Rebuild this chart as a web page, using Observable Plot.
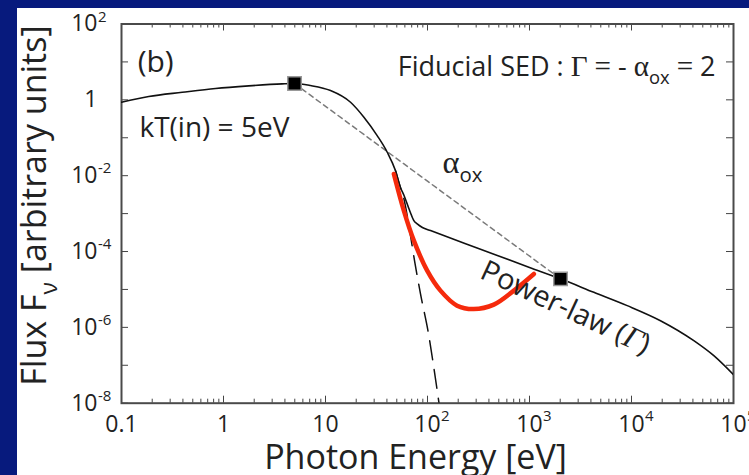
<!DOCTYPE html>
<html>
<head>
<meta charset="utf-8">
<script src="https://cdn.jsdelivr.net/npm/d3@7"></script>
<script src="https://cdn.jsdelivr.net/npm/@observablehq/plot@0.6"></script>
<style>
  html, body { margin: 0; padding: 0; width: 749px; height: 475px; overflow: hidden; background: #071a7d; }
  #panel { position: absolute; left: 17px; top: 8px; width: 732px; height: 467px; background: #ffffff; }
  #panel svg { overflow: visible; }
  #panel text { white-space: pre; }
</style>
</head>
<body>
<div id="panel"></div>
<script>
// Photon energy [eV] and flux F_nu of the total SED (disk + power law with high-energy roll-over)
const sedEnergy = [0.1, 0.185, 0.394, 0.836, 1.77, 3.76, 4.97, 7.13, 11.2, 17.6, 23.8, 32.1, 40.3, 48.5, 54.3, 58.6, 64.2, 68.1, 73.5, 79.3, 89.1, 107, 316, 1000, 2014, 4276, 9078, 19230, 40830, 64120, 100000];
const sedFlux   = [0.865, 1.22, 1.58, 2.0, 2.34, 2.63, 2.69, 2.38, 1.76, 0.865, 0.348, 0.114, 0.0415, 0.0136, 0.0049, 0.0031, 0.00162, 0.00105, 0.00065, 0.000535, 0.00043, 0.000356, 0.00012, 0.000038, 0.000019, 8.4e-6, 3.74e-6, 1.5e-6, 4.46e-7, 1.79e-7, 5.65e-8];

// Accretion-disk component alone (kT(in) = 5 eV), Wien tail
const diskEnergy = [48.5, 54.3, 58.6, 65.2, 74.6, 85.3, 102.3, 114.6, 129.7];
const diskFlux   = [0.0136, 0.0048, 0.0025, 0.00055, 5.75e-5, 7.76e-6, 6.8e-7, 9.8e-8, 1.0e-8];

// Alternative soft-excess shape
const altEnergy = [46.8, 58.6, 73.5, 99.3, 134, 195, 284, 447, 702, 1104];
const altFlux   = [0.0111, 0.0012, 1.94e-4, 3.13e-5, 9.3e-6, 3.74e-6, 3.05e-6, 3.98e-6, 9.3e-6, 2.56e-5];

// Anchor points of alpha_ox: 2500 Angstrom and 2 keV
const anchorEnergy = [4.97, 2014];
const anchorFlux   = [2.69, 1.9e-5];

// Axis tick labels
const energyTicks    = [0.1, 1, 10, 100, 1e3, 1e4, 1e5];
const energyTickBase = ["0.1", "1", "10", "10", "10", "10", "10"];
const energyTickExp  = ["", "", "", "2", "3", "4", "5"];
const fluxTicks      = [1e2, 1, 1e-2, 1e-4, 1e-6, 1e-8];
const fluxTickBase   = ["10", "1", "10", "10", "10", "10"];
const fluxTickExp    = ["2", "", "-2", "-4", "-6", "-8"];

// Annotations (data coordinates)
const notesLeft = [
  {x: 0.144, y: 10,     text: "(b)",          size: 30},
  {x: 0.15,  y: 0.186,  text: "kT(in) = 5eV", size: 28},
  {x: 140,   y: 0.0209, text: "*{α}_{ox}",    size: 30}
];
const notesRight = [
  {x: 66700, y: 7.1, text: "Fiducial SED : *{Γ} *{=} - *{α}_{ox} *{=} 2", size: 27}
];
const notesTilted = [
  {x: 2254, y: 3.3e-6, text: "Power-law (%{Γ})", size: 29, rotate: 25}
];

const W = 732, H = 467;
const mL = 104, mR = 16, mT = 15.5, mB = 72.3;
const plotW = W - mL - mR, plotH = H - mT - mB;
const ink = "#222222";

const sed = sedEnergy.map((e, i) => ({e, f: sedFlux[i]}));
const disk = diskEnergy.map((e, i) => ({e, f: diskFlux[i]}));
const alt = altEnergy.map((e, i) => ({e, f: altFlux[i]}));
const anchors = anchorEnergy.map((e, i) => ({e, f: anchorFlux[i]}));
const xLab = energyTicks.map((v, i) => ({v, base: energyTickBase[i], exp: energyTickExp[i]}));
const yLab = fluxTicks.map((v, i) => ({v, base: fluxTickBase[i], exp: fluxTickExp[i]}));

// log-axis tick positions from d3's log scale: decades are major, the rest minor
const isDecade = v => Math.abs(Math.log10(v) - Math.round(Math.log10(v))) < 1e-9;
const xAll = d3.scaleLog().domain([0.1, 1e5]).ticks();
const yAll = d3.scaleLog().domain([1e-8, 1e2]).ticks();
const xMajor = xAll.filter(isDecade), xMinor = xAll.filter(v => !isDecade(v));
const yMajor = yAll.filter(isDecade), yMinor = yAll.filter(v => !isDecade(v));
const MAJ = 7, MIN = 4, tickCol = "#444";

const chart = Plot.plot({
  width: W, height: H,
  marginLeft: mL, marginRight: mR, marginTop: mT, marginBottom: mB,
  x: {type: "log", domain: [0.1, 1e5], axis: null},
  y: {type: "log", domain: [1e-8, 1e2], axis: null},
  style: {fontFamily: "'Open Sans', sans-serif", background: "transparent", color: ink},
  marks: [
    // inward ticks on all four sides
    Plot.tickX(xMajor, {x: d => d, insetTop: plotH - MAJ, stroke: tickCol, strokeWidth: 1}),
    Plot.tickX(xMinor, {x: d => d, insetTop: plotH - MIN, stroke: tickCol, strokeWidth: 1}),
    Plot.tickX(xMajor, {x: d => d, insetBottom: plotH - MAJ, stroke: tickCol, strokeWidth: 1}),
    Plot.tickX(xMinor, {x: d => d, insetBottom: plotH - MIN, stroke: tickCol, strokeWidth: 1}),
    Plot.tickY(yMajor, {y: d => d, insetRight: plotW - MAJ, stroke: tickCol, strokeWidth: 1}),
    Plot.tickY(yMinor, {y: d => d, insetRight: plotW - MIN, stroke: tickCol, strokeWidth: 1}),
    Plot.tickY(yMajor, {y: d => d, insetLeft: plotW - MAJ, stroke: tickCol, strokeWidth: 1}),
    Plot.tickY(yMinor, {y: d => d, insetLeft: plotW - MIN, stroke: tickCol, strokeWidth: 1}),
    Plot.frame({stroke: "#4a4a4a", strokeWidth: 2}),

    // tick labels: mantissa and exponent
    Plot.text(xLab, {x: "v", text: "base", frameAnchor: "bottom", textAnchor: "middle", lineAnchor: "middle", dy: 21, fontSize: 23, fill: ink}),
    Plot.text(xLab.filter(d => d.exp), {x: "v", text: "exp", frameAnchor: "bottom", textAnchor: "start", lineAnchor: "middle", dx: 13.5, dy: 13, fontSize: 15, fill: ink}),
    Plot.text(yLab, {y: "v", text: "base", frameAnchor: "left", textAnchor: "end", lineAnchor: "middle", dx: -24, fontSize: 23, fill: ink}),
    Plot.text(yLab.filter(d => d.exp), {y: "v", text: "exp", frameAnchor: "left", textAnchor: "start", lineAnchor: "middle", dx: -23.5, dy: -7, fontSize: 15, fill: ink}),

    // axis titles
    Plot.text(["Photon Energy [eV]"], {frameAnchor: "bottom", textAnchor: "middle", lineAnchor: "middle", dx: -12, dy: 55, fontSize: 34, fill: ink}),
    Plot.text(["Flux F_{ν} [arbitrary units]"], {frameAnchor: "left", textAnchor: "middle", lineAnchor: "middle", rotate: -90, dx: -86, dy: -8, fontSize: 34, fill: ink}),

    // curves
    Plot.line(disk, {x: "e", y: "f", stroke: "#111", strokeWidth: 1.5, strokeDasharray: "19,10", curve: "monotone-x", clip: true}),
    Plot.line(anchors, {x: "e", y: "f", stroke: "#7a7a7a", strokeWidth: 1.5, strokeDasharray: "5,4"}),
    Plot.line(sed, {x: "e", y: "f", stroke: "#111", strokeWidth: 1.6, curve: "monotone-x", clip: true}),
    Plot.line(alt, {x: "e", y: "f", stroke: "#f52a0c", strokeWidth: 4.5, curve: "catmull-rom"}),
    Plot.dot(anchors, {x: "e", y: "f", symbol: "square", r: 7.6, fill: "#000", stroke: "#999", strokeWidth: 1.5}),

    // annotations
    Plot.text(notesLeft, {x: "x", y: "y", text: "text", textAnchor: "start", lineAnchor: "middle", fontSize: d => d.size, fill: ink}),
    Plot.text(notesRight, {x: "x", y: "y", text: "text", textAnchor: "end", lineAnchor: "middle", fontSize: d => d.size, fill: ink}),
    Plot.text(notesTilted, {x: "x", y: "y", text: "text", textAnchor: "middle", lineAnchor: "middle", rotate: "rotate", fontSize: d => d.size, fill: ink})
  ]
});

document.getElementById("panel").appendChild(chart);

// small markup for text: _{sub}, ^{sup}, *{serif}, %{serif italic}
d3.select(chart).selectAll("text").each(function () {
  const el = this;
  const s = el.textContent;
  if (!/[_^*%]\{/.test(s)) return;
  const fs = parseFloat(getComputedStyle(el).fontSize) || 16;
  const re = /([_^*%])\{([^}]*)\}/g;
  const parts = [];
  let last = 0, m;
  while ((m = re.exec(s))) {
    if (m.index > last) parts.push({kind: "", t: s.slice(last, m.index)});
    parts.push({kind: m[1], t: m[2]});
    last = re.lastIndex;
  }
  if (last < s.length) parts.push({kind: "", t: s.slice(last)});
  el.textContent = "";
  let shift = 0;
  for (const p of parts) {
    const ts = d3.select(el).append("tspan").text(p.t);
    let target = 0;
    if (p.kind === "_") { target = 0.3 * fs; ts.attr("font-size", 0.68 * fs); }
    if (p.kind === "^") { target = -0.4 * fs; ts.attr("font-size", 0.68 * fs); }
    if (p.kind === "*") ts.attr("font-family", "'Liberation Serif', serif").attr("font-size", 1.08 * fs);
    if (p.kind === "%") ts.attr("font-family", "'Liberation Serif', serif").attr("font-style", "italic").attr("font-size", 1.08 * fs);
    if (target !== shift) { ts.attr("dy", target - shift); shift = target; }
  }
});
</script>
</body>
</html>
